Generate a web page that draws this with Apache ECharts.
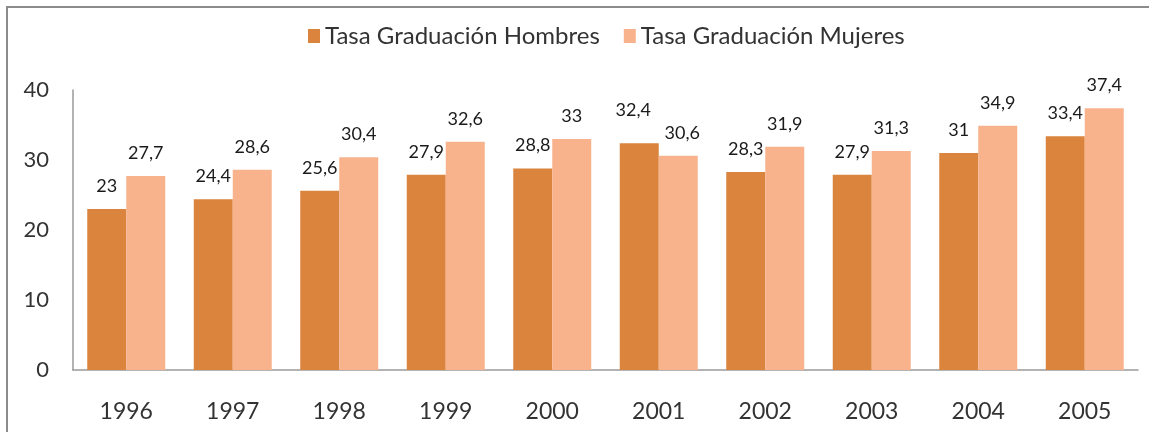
<!DOCTYPE html>
<html>
<head>
<meta charset="utf-8">
<script src="https://cdn.jsdelivr.net/npm/echarts@6/dist/echarts.min.js"></script>
<style>
html,body{margin:0;padding:0;background:#fff;}
#chart{width:1149px;height:432px;}
</style>
</head>
<body>
<div id="chart"></div>
<script>
const years = ['1996','1997','1998','1999','2000','2001','2002','2003','2004','2005'];
const hombres = [23, 24.4, 25.6, 27.9, 28.8, 32.4, 28.3, 27.9, 31, 33.4];
const mujeres = [27.7, 28.6, 30.4, 32.6, 33, 30.6, 31.9, 31.3, 34.9, 37.4];
const yTicks = [0, 10, 20, 30, 40];

const FONT = 'Lato, "Open Sans", sans-serif';
const fmt = p => String(p.value).replace('.', ',');

const chart = echarts.init(document.getElementById('chart'), null, {renderer: 'canvas'});
chart.setOption({
  animation: false,
  backgroundColor: '#ffffff',
  graphic: [{
    type: 'rect',
    shape: {x: 7, y: 7, width: 1300, height: 600},
    style: {fill: 'none', stroke: '#8c8c8c', lineWidth: 2},
    silent: true,
    z: -1
  }],
  legend: {
    top: 19,
    left: 303,
    itemWidth: 12,
    itemHeight: 14,
    itemGap: 24,
    icon: 'rect',
    textStyle: {fontFamily: FONT, fontSize: 24, color: '#333'},
    data: ['Tasa Graduación Hombres', 'Tasa Graduación Mujeres']
  },
  grid: {left: 73, right: 11, top: 90, bottom: 62, containLabel: false},
  xAxis: {
    type: 'category',
    data: years,
    axisLine: {show: true, lineStyle: {color: '#9a9a9a', width: 1.5}},
    axisTick: {show: false},
    axisLabel: {fontFamily: FONT, fontSize: 23, color: '#333', margin: 30}
  },
  yAxis: {
    type: 'value',
    min: yTicks[0],
    max: yTicks[yTicks.length - 1],
    interval: 10,
    axisLine: {show: true, lineStyle: {color: '#9a9a9a', width: 1.5}},
    axisTick: {show: false},
    splitLine: {show: false},
    axisLabel: {fontFamily: FONT, fontSize: 22, color: '#333', margin: 24}
  },
  series: [
    {
      name: 'Tasa Graduación Hombres',
      type: 'bar',
      data: hombres.map((v, i) => i === 5 ? {value: v, label: {offset: [-6, -10]}} : v),
      barWidth: 39,
      barGap: '0%',
      itemStyle: {color: '#DA843E'},
      label: {show: true, position: 'top', distance: 14, formatter: fmt,
              fontFamily: FONT, fontSize: 18, color: '#1a1a1a'}
    },
    {
      name: 'Tasa Graduación Mujeres',
      type: 'bar',
      data: mujeres.map((v, i) => i === 5 ? {value: v, label: {offset: [4, 0]}} : v),
      barWidth: 39,
      itemStyle: {color: '#F8B38C'},
      label: {show: true, position: 'top', distance: 14, formatter: fmt,
              fontFamily: FONT, fontSize: 18, color: '#1a1a1a'}
    }
  ]
});
</script>
</body>
</html>
